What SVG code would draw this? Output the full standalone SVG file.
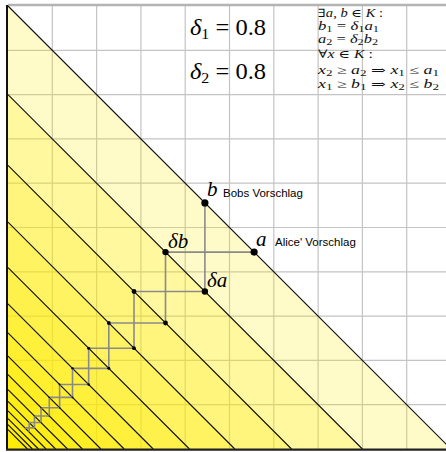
<svg xmlns="http://www.w3.org/2000/svg" width="446" height="452" viewBox="0 0 446 452">
<style>
.grid{stroke:#c4c4c4;stroke-width:1.2;fill:none}
.band{fill:#ffee00;fill-opacity:0.21;stroke:none}
.diag{stroke:#111;stroke-width:1.1;fill:none}
.stair{stroke:#8a8a8a;stroke-width:1.6;fill:none}
.dot{fill:#000}
.m{font-family:"Liberation Serif","DejaVu Serif",serif;font-style:italic;fill:#000}
.r{font-family:"Liberation Serif","DejaVu Serif",serif;font-style:normal;fill:#000}
.lbl{font-family:"Liberation Sans",Arial,sans-serif;font-size:11.5px;fill:#000}
.sm{font-family:"Liberation Serif","DejaVu Serif",serif;font-size:11.5px;fill:#111}
</style>
<rect x="0" y="0" width="446" height="452" fill="#fff"/>
<g id="grid">
<path class="grid" d="M52.3,6V449M96.6,6V449M140.9,6V449M185.2,6V449M229.5,6V449M273.8,6V449M318.1,6V449M362.4,6V449M406.7,6V449M8,404.7H446M8,360.4H446M8,316.1H446M8,271.8H446M8,227.5H446M8,183.2H446M8,138.9H446M8,94.6H446M8,50.3H446"/>
<line x1="8" y1="5" x2="446" y2="5" stroke="#b4b4b4" stroke-width="2.5"/>
</g>
<g id="bands">
<polygon class="band" points="8,449 8,6 451,449"/>
<polygon class="band" points="8,449 8,94.6 362.4,449"/>
<polygon class="band" points="8,449 8,165.48 291.52,449"/>
<polygon class="band" points="8,449 8,222.18 234.82,449"/>
<polygon class="band" points="8,449 8,267.55 189.45,449"/>
<polygon class="band" points="8,449 8,303.84 153.16,449"/>
<polygon class="band" points="8,449 8,332.87 124.13,449"/>
<polygon class="band" points="8,449 8,356.10 100.90,449"/>
<polygon class="band" points="8,449 8,374.68 82.32,449"/>
<polygon class="band" points="8,449 8,389.54 67.46,449"/>
<polygon class="band" points="8,449 8,401.43 55.57,449"/>
<polygon class="band" points="8,449 8,410.95 46.05,449"/>
<polygon class="band" points="8,449 8,418.56 38.44,449"/>
<polygon class="band" points="8,449 8,424.65 32.35,449"/>
<polygon class="band" points="8,449 8,429.52 27.48,449"/>
</g>
<g id="diagonals">
<path class="diag" d="M8,6L451,449M8,94.6L362.4,449M8,165.48L291.52,449M8,222.18L234.82,449M8,267.55L189.45,449M8,303.84L153.16,449M8,332.87L124.13,449M8,356.10L100.90,449M8,374.68L82.32,449M8,389.54L67.46,449M8,401.43L55.57,449M8,410.95L46.05,449M8,418.56L38.44,449M8,424.65L32.35,449M8,429.52L27.48,449"/>
</g>
<g id="axes">
<line x1="7" y1="5" x2="7" y2="450" stroke="#111" stroke-width="2"/>
<line x1="6" y1="449.6" x2="446" y2="449.6" stroke="#222" stroke-width="2.4"/>
</g>
<g id="connectors">
<path class="stair" d="M204.89,202.89V291.49M165.51,252.11H254.11"/>
<path class="stair" d="M165.51,252.11V322.99M134.01,291.49H204.89"/>
<path class="stair" d="M134.01,291.49V348.19M108.81,322.99H165.51"/>
<path class="stair" d="M108.81,322.99V368.35M88.65,348.19H134.01"/>
<path class="stair" d="M88.65,348.19V384.48M72.52,368.35H108.81"/>
<path class="stair" d="M72.52,368.35V397.39M59.61,384.48H88.65"/>
<path class="stair" d="M59.61,384.48V407.71M49.29,397.39H72.52"/>
<path class="stair" d="M49.29,397.39V415.97M41.03,407.71H59.61"/>
<path class="stair" d="M41.03,407.71V422.57M34.43,415.97H49.29"/>
<path class="stair" d="M34.43,415.97V427.86M29.14,422.57H41.03"/>
<path class="stair" d="M29.14,422.57V432.09M24.91,427.86H34.43"/>
</g>
<g id="node-b"><circle class="dot" cx="204.89" cy="202.89" r="3.6"/><text class="m" x="207" y="196" font-size="21">b</text><text class="lbl" x="223" y="197">Bobs Vorschlag</text></g>
<g id="node-a"><circle class="dot" cx="254.11" cy="252.11" r="3.6"/><text class="m" x="256" y="246" font-size="21">a</text><text class="lbl" x="275" y="246">Alice' Vorschlag</text></g>
<g id="node-db"><circle class="dot" cx="165.51" cy="252.11" r="3.2"/><text class="m" x="168" y="248" font-size="21">δb</text></g>
<g id="node-da"><circle class="dot" cx="204.89" cy="291.49" r="3.2"/><text class="m" x="207" y="287" font-size="21">δa</text></g>
<g id="points">
<circle class="dot" cx="165.51" cy="322.99" r="2.4"/><circle class="dot" cx="134.01" cy="291.49" r="2.4"/>
<circle class="dot" cx="134.01" cy="348.19" r="1.9"/><circle class="dot" cx="108.81" cy="322.99" r="1.9"/>
<circle class="dot" cx="108.81" cy="368.35" r="1.5"/><circle class="dot" cx="88.65" cy="348.19" r="1.5"/>
<circle class="dot" cx="88.65" cy="384.48" r="1.2"/><circle class="dot" cx="72.52" cy="368.35" r="1.2"/>
<circle class="dot" cx="72.52" cy="397.39" r="0.95"/><circle class="dot" cx="59.61" cy="384.48" r="0.95"/>
<circle class="dot" cx="59.61" cy="407.71" r="0.75"/><circle class="dot" cx="49.29" cy="397.39" r="0.75"/>
<circle class="dot" cx="49.29" cy="415.97" r="0.6"/><circle class="dot" cx="41.03" cy="407.71" r="0.6"/>
<circle class="dot" cx="41.03" cy="422.57" r="0.5"/><circle class="dot" cx="34.43" cy="415.97" r="0.5"/>
</g>
<g id="delta1"><text class="r" x="190" y="35" font-size="23" textLength="76" lengthAdjust="spacingAndGlyphs"><tspan class="m">δ</tspan><tspan font-size="15" dy="4">1</tspan><tspan dy="-4"> = 0.8</tspan></text></g>
<g id="delta2"><text class="r" x="190" y="79" font-size="23" textLength="76" lengthAdjust="spacingAndGlyphs"><tspan class="m">δ</tspan><tspan font-size="15" dy="4">2</tspan><tspan dy="-4"> = 0.8</tspan></text></g>
<g id="conditions">
<text class="sm" x="318" y="17" textLength="65" lengthAdjust="spacingAndGlyphs">∃<tspan font-style="italic">a</tspan>, <tspan font-style="italic">b</tspan> ∈ <tspan font-style="italic">K</tspan> :</text>
<text class="sm" x="318" y="30" textLength="61" lengthAdjust="spacingAndGlyphs"><tspan font-style="italic">b</tspan><tspan font-size="8.5" dy="2">1</tspan><tspan dy="-2"> = </tspan><tspan font-style="italic">δ</tspan><tspan font-size="8.5" dy="2">1</tspan><tspan dy="-2" font-style="italic">a</tspan><tspan font-size="8.5" dy="2">1</tspan></text>
<text class="sm" x="318" y="43" textLength="60" lengthAdjust="spacingAndGlyphs"><tspan font-style="italic">a</tspan><tspan font-size="8.5" dy="2">2</tspan><tspan dy="-2"> = </tspan><tspan font-style="italic">δ</tspan><tspan font-size="8.5" dy="2">2</tspan><tspan dy="-2" font-style="italic">b</tspan><tspan font-size="8.5" dy="2">2</tspan></text>
<text class="sm" x="318" y="58" textLength="55" lengthAdjust="spacingAndGlyphs">∀<tspan font-style="italic">x</tspan> ∈ <tspan font-style="italic">K</tspan> :</text>
<text class="sm" x="318" y="74" textLength="121" lengthAdjust="spacingAndGlyphs"><tspan font-style="italic">x</tspan><tspan font-size="8.5" dy="2">2</tspan><tspan dy="-2">  ≥  </tspan><tspan font-style="italic">a</tspan><tspan font-size="8.5" dy="2">2</tspan><tspan dy="-2">  ⇒  </tspan><tspan font-style="italic">x</tspan><tspan font-size="8.5" dy="2">1</tspan><tspan dy="-2">  ≤  </tspan><tspan font-style="italic">a</tspan><tspan font-size="8.5" dy="2">1</tspan></text>
<text class="sm" x="318" y="88" textLength="121" lengthAdjust="spacingAndGlyphs"><tspan font-style="italic">x</tspan><tspan font-size="8.5" dy="2">1</tspan><tspan dy="-2">  ≥  </tspan><tspan font-style="italic">b</tspan><tspan font-size="8.5" dy="2">1</tspan><tspan dy="-2">  ⇒  </tspan><tspan font-style="italic">x</tspan><tspan font-size="8.5" dy="2">2</tspan><tspan dy="-2">  ≤  </tspan><tspan font-style="italic">b</tspan><tspan font-size="8.5" dy="2">2</tspan></text>
</g>
</svg>
